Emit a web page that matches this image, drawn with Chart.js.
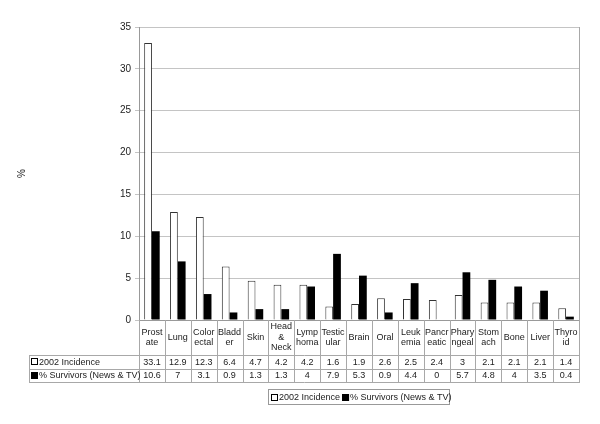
<!DOCTYPE html>
<html>
<head>
<meta charset="utf-8">
<script src="https://cdn.jsdelivr.net/npm/chart.js@4.4.0/dist/chart.umd.min.js"></script>
<style>
  html, body { margin: 0; padding: 0; background: #fff; }
  #wrap { width: 600px; height: 424px; }
</style>
</head>
<body>
<div id="wrap"><canvas id="grafico" width="600" height="424"></canvas></div>
<script>
// Categorias (ya cortadas en lineas como en la tabla original)
const categorias = [
  ['Prost', 'ate'], ['Lung'], ['Color', 'ectal'], ['Bladd', 'er'], ['Skin'],
  ['Head', '&', 'Neck'], ['Lymp', 'homa'], ['Testic', 'ular'], ['Brain'], ['Oral'],
  ['Leuk', 'emia'], ['Pancr', 'eatic'], ['Phary', 'ngeal'], ['Stom', 'ach'],
  ['Bone'], ['Liver'], ['Thyro', 'id']
];
const incidencia2002 = [33.1, 12.9, 12.3, 6.4, 4.7, 4.2, 4.2, 1.6, 1.9, 2.6, 2.5, 2.4, 3, 2.1, 2.1, 2.1, 1.4];
const sobrevivientes = [10.6, 7, 3.1, 0.9, 1.3, 1.3, 4, 7.9, 5.3, 0.9, 4.4, 0, 5.7, 4.8, 4, 3.5, 0.4];
const nombresSeries = ['2002 Incidence', '% Survivors (News & TV)'];
const ticksY = [0, 5, 10, 15, 20, 25, 30, 35];

const FUENTE = '"Liberation Sans", Arial, sans-serif';
const LINEA_TABLA = '#a8a8a8';

// Dibuja la tabla de datos bajo el eje X, el borde derecho y la leyenda
const tablaPlugin = {
  id: 'tablaDatos',
  afterDraw(chart) {
    const ctx = chart.ctx;
    const area = chart.chartArea;
    const xs = chart.scales.x;
    const n = categorias.length;
    const colW = (area.right - area.left) / n;
    const y0 = xs.top;            // linea del eje
    const y1 = y0 + 35;           // fin fila categorias
    const y2 = y1 + 13.5;         // fin fila 1
    const y3 = y2 + 13.5;         // fin fila 2
    const xLabel = 29;

    ctx.save();
    ctx.strokeStyle = LINEA_TABLA;
    ctx.lineWidth = 1;

    // borde derecho del area
    ctx.beginPath();
    ctx.moveTo(area.right + 0.5, area.top);
    ctx.lineTo(area.right + 0.5, area.bottom);
    ctx.stroke();

    // lineas horizontales
    [y1, y2, y3].forEach(y => {
      ctx.beginPath();
      ctx.moveTo(xLabel, Math.round(y) + 0.5);
      ctx.lineTo(area.right + 1, Math.round(y) + 0.5);
      ctx.stroke();
    });
    // linea izquierda de las etiquetas
    ctx.beginPath();
    ctx.moveTo(xLabel + 0.5, Math.round(y1));
    ctx.lineTo(xLabel + 0.5, Math.round(y3) + 1);
    ctx.stroke();

    // lineas verticales
    for (let i = 0; i <= n; i++) {
      const x = Math.round(area.left + i * colW) + 0.5;
      ctx.beginPath();
      ctx.moveTo(x, y0);
      ctx.lineTo(x, y3 + 1);
      ctx.stroke();
    }

    // textos de categorias y valores
    ctx.fillStyle = '#222';
    ctx.textAlign = 'center';
    ctx.textBaseline = 'middle';
    ctx.font = '9px ' + FUENTE;
    categorias.forEach((lineas, i) => {
      const cx = xs.getPixelForValue(i);
      const lh = 10.5;
      const cy = (y0 + y1) / 2 - (lineas.length - 1) * lh / 2;
      lineas.forEach((t, k) => ctx.fillText(t, cx, cy + k * lh));
      ctx.fillText(String(incidencia2002[i]), cx, (y1 + y2) / 2 + 0.5);
      ctx.fillText(String(sobrevivientes[i]), cx, (y2 + y3) / 2 + 0.5);
    });

    // etiquetas de fila con simbolo
    ctx.textAlign = 'left';
    const filas = [(y1 + y2) / 2 + 0.5, (y2 + y3) / 2 + 0.5];
    filas.forEach((cy, k) => {
      const sx = xLabel + 2;
      ctx.fillStyle = k === 0 ? '#fff' : '#000';
      ctx.fillRect(sx, Math.round(cy - 4), 7, 7);
      ctx.strokeStyle = '#000';
      ctx.strokeRect(sx + 0.5, Math.round(cy - 4) + 0.5, 6, 6);
      ctx.fillStyle = '#222';
      ctx.fillText(nombresSeries[k], sx + 8, cy);
    });

    // leyenda inferior
    const lx = 268, ly = 389, lw = 181, lhh = 15;
    ctx.strokeStyle = '#999';
    ctx.strokeRect(lx + 0.5, ly + 0.5, lw, lhh);
    let tx = lx + 3;
    const ty = ly + lhh / 2 + 1;
    nombresSeries.forEach((nombre, k) => {
      ctx.fillStyle = k === 0 ? '#fff' : '#000';
      ctx.fillRect(tx, Math.round(ty - 4), 7, 7);
      ctx.strokeStyle = '#000';
      ctx.strokeRect(tx + 0.5, Math.round(ty - 4) + 0.5, 6, 6);
      ctx.fillStyle = '#222';
      ctx.fillText(nombre, tx + 8, ty);
      tx += 8 + ctx.measureText(nombre).width + 2;
    });
    ctx.restore();
  }
};

const ctx = document.getElementById('grafico').getContext('2d');
new Chart(ctx, {
  type: 'bar',
  data: {
    labels: categorias.map(c => c.join('')),
    datasets: [
      {
        label: nombresSeries[0],
        data: incidencia2002,
        backgroundColor: '#ffffff',
        borderColor: '#333333',
        borderWidth: 1,
        barPercentage: 1,
        categoryPercentage: 0.6
      },
      {
        label: nombresSeries[1],
        data: sobrevivientes,
        backgroundColor: '#000000',
        borderColor: '#000000',
        borderWidth: 0,
        barPercentage: 1,
        categoryPercentage: 0.6
      }
    ]
  },
  options: {
    responsive: false,
    animation: false,
    devicePixelRatio: 1,
    layout: { padding: { top: 27, right: 21, left: 0, bottom: 42 } },
    plugins: {
      legend: { display: false },
      tooltip: { enabled: false }
    },
    scales: {
      x: {
        ticks: { display: false },
        grid: { display: false },
        border: { display: true, color: '#999' },
        afterFit: scale => { scale.height = 62; }
      },
      y: {
        min: 0,
        max: 35,
        afterBuildTicks: scale => { scale.ticks = ticksY.map(v => ({ value: v })); },
        ticks: {
          color: '#222',
          font: { family: FUENTE, size: 10 },
          padding: 4
        },
        grid: { color: '#c4c4c4', tickLength: 4, drawTicks: true },
        border: { display: true, color: '#999' },
        title: {
          display: true,
          text: '%',
          color: '#222',
          font: { family: FUENTE, size: 10 },
          padding: { top: 16 }
        },
        afterFit: scale => { scale.width = 139; }
      }
    }
  },
  plugins: [tablaPlugin]
});
</script>
</body>
</html>
